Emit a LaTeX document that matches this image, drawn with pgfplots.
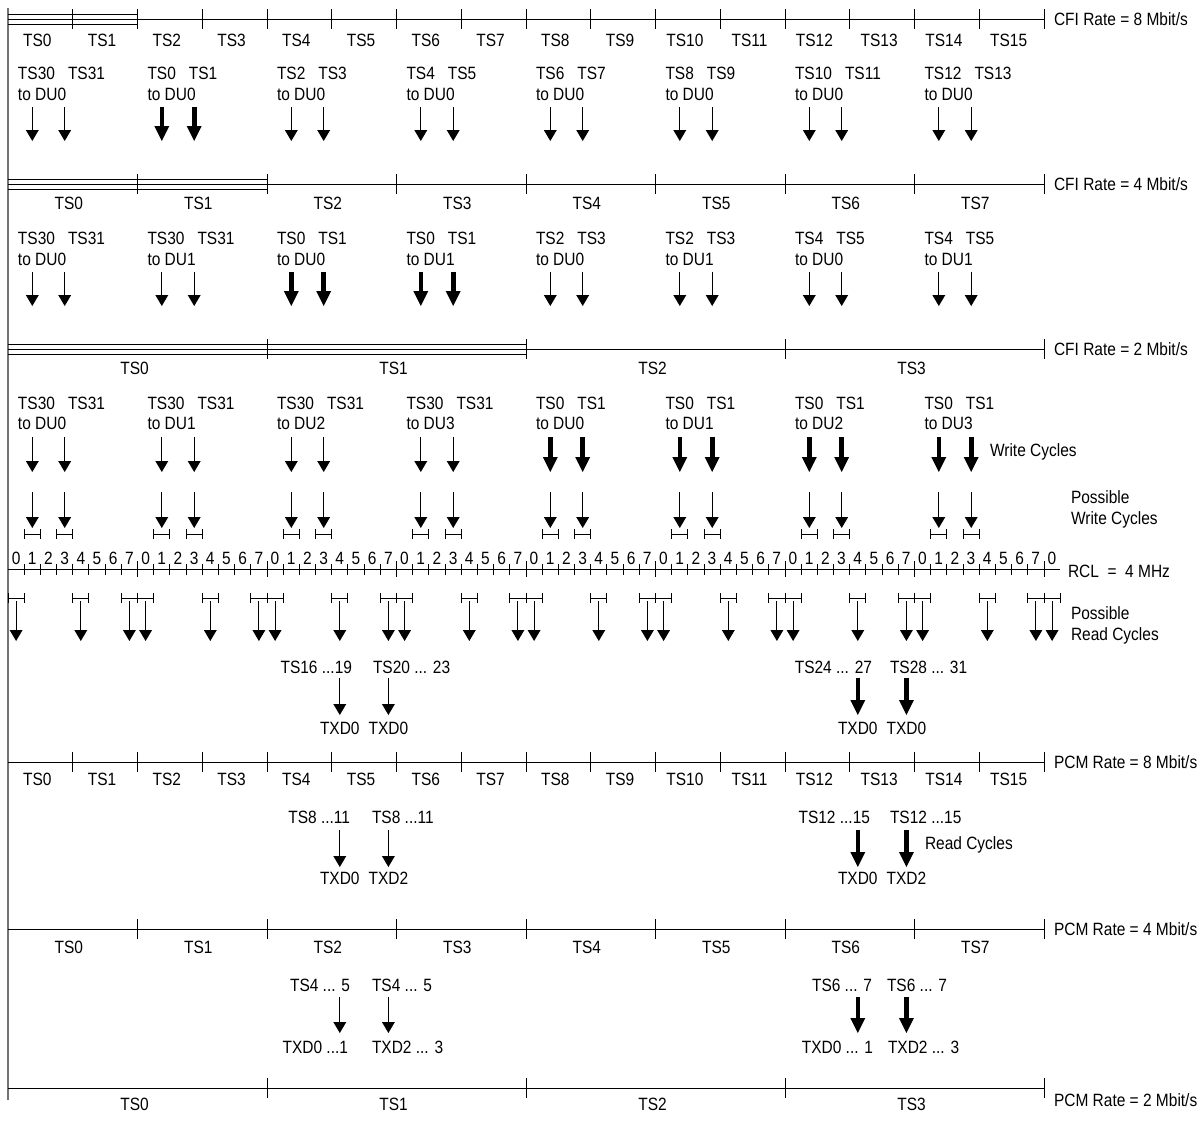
\documentclass[border=0pt]{standalone}
\usepackage{fontspec}
\setmainfont{Liberation Sans}[FakeStretch=0.87]
\usepackage{pgfplots}
\pgfplotsset{compat=1.18}
\usetikzlibrary{arrows.meta}
\newcommand\dg[1]{\makebox[8.09375pt]{#1}}
\newcommand\oct{\dg0\dg1\dg2\dg3\dg4\dg5\dg6\dg7}
\newcommand\slA[1]{\makebox[32.375pt]{#1}}
\newcommand\slB[1]{\makebox[64.75pt]{#1}}
\newcommand\slC[1]{\makebox[129.5pt]{#1}}
\pgfplotsset{
  thinarr/.style={black, line width=0.5pt, -{Triangle[length=5.5pt,width=6.5pt,line width=0pt]}},
  thickarr/.style={black, line width=2.3pt, -{Triangle[length=7.5pt,width=7.5pt,line width=0pt]}},
  hl/.style={black, line width=0.5pt},
  bt/.style={black, line width=0.5pt, only marks, mark=|, mark size=5pt},
  iv/.style={black, line width=0.5pt, mark=|, mark size=2.5pt, unbounded coords=jump},
}
\begin{document}
\begin{tikzpicture}[font=\fontsize{8.9pt}{10pt}\selectfont,
  every node/.style={inner sep=0pt, outer sep=0pt, text height=6.4pt, text depth=0pt}]
\begin{axis}[x=0.5pt, y=0.5pt, y dir=reverse, xmin=0, xmax=1204, ymin=0, ymax=1120,
  hide axis, clip=false]
\addplot[draw=none] coordinates {(0,0) (1204,1120)};
% left vertical line
\addplot[black!55, line width=1pt] coordinates {(8,8) (8,1100)};

% ---------------- CFI 8 Mbit/s
\addplot[hl] coordinates {(8,19) (1044,19)};
\addplot[hl] coordinates {(8,14) (137.5,14)};
\addplot[hl] coordinates {(8,24) (137.5,24)};
\addplot[bt] coordinates {(72.75,19) (137.5,19) (202.25,19) (267,19) (331.75,19) (396.5,19) (461.25,19) (526,19) (590.75,19) (655.5,19) (720.25,19) (785,19) (849.75,19) (914.5,19) (979.25,19) (1044,19)};
\node[anchor=west] at (5,40) {\slA{TS0}\slA{TS1}\slA{TS2}\slA{TS3}\slA{TS4}\slA{TS5}\slA{TS6}\slA{TS7}\slA{TS8}\slA{TS9}\slA{TS10}\slA{TS11}\slA{TS12}\slA{TS13}\slA{TS14}\slA{TS15}};
\node[anchor=west] at (1054,19) {CFI Rate = 8 Mbit/s};
\node[anchor=west] at (18,73) {TS30\hspace{6.5pt}TS31};   \node[anchor=west] at (18,94) {to DU0};
\node[anchor=west] at (147.5,73) {TS0\hspace{6.5pt}TS1};  \node[anchor=west] at (147.5,94) {to DU0};
\node[anchor=west] at (277,73) {TS2\hspace{6.5pt}TS3};    \node[anchor=west] at (277,94) {to DU0};
\node[anchor=west] at (406.5,73) {TS4\hspace{6.5pt}TS5};  \node[anchor=west] at (406.5,94) {to DU0};
\node[anchor=west] at (536,73) {TS6\hspace{6.5pt}TS7};    \node[anchor=west] at (536,94) {to DU0};
\node[anchor=west] at (665.5,73) {TS8\hspace{6.5pt}TS9};  \node[anchor=west] at (665.5,94) {to DU0};
\node[anchor=west] at (795,73) {TS10\hspace{6.5pt}TS11};  \node[anchor=west] at (795,94) {to DU0};
\node[anchor=west] at (924.5,73) {TS12\hspace{6.5pt}TS13};\node[anchor=west] at (924.5,94) {to DU0};
\addplot[thinarr, quiver={u=0,v=34}] coordinates {(32.3,107) (64.7,107) (291.3,107) (323.7,107) (420.8,107) (453.2,107) (550.3,107) (582.7,107) (679.8,107) (712.2,107) (809.3,107) (841.7,107) (938.8,107) (971.2,107)};
\addplot[thickarr, quiver={u=0,v=34}] coordinates {(161.8,107) (194.2,107)};

% ---------------- CFI 4 Mbit/s
\addplot[hl] coordinates {(8,184) (1044,184)};
\addplot[hl] coordinates {(8,179) (267,179)};
\addplot[hl] coordinates {(8,189) (267,189)};
\addplot[bt] coordinates {(137.5,184) (267,184) (396.5,184) (526,184) (655.5,184) (785,184) (914.5,184) (1044,184)};
\node[anchor=west] at (4,203) {\slB{TS0}\slB{TS1}\slB{TS2}\slB{TS3}\slB{TS4}\slB{TS5}\slB{TS6}\slB{TS7}};
\node[anchor=west] at (1054,184) {CFI Rate = 4 Mbit/s};
\node[anchor=west] at (18,238) {TS30\hspace{6.5pt}TS31};   \node[anchor=west] at (18,259) {to DU0};
\node[anchor=west] at (147.5,238) {TS30\hspace{6.5pt}TS31};\node[anchor=west] at (147.5,259) {to DU1};
\node[anchor=west] at (277,238) {TS0\hspace{6.5pt}TS1};    \node[anchor=west] at (277,259) {to DU0};
\node[anchor=west] at (406.5,238) {TS0\hspace{6.5pt}TS1};  \node[anchor=west] at (406.5,259) {to DU1};
\node[anchor=west] at (536,238) {TS2\hspace{6.5pt}TS3};    \node[anchor=west] at (536,259) {to DU0};
\node[anchor=west] at (665.5,238) {TS2\hspace{6.5pt}TS3};  \node[anchor=west] at (665.5,259) {to DU1};
\node[anchor=west] at (795,238) {TS4\hspace{6.5pt}TS5};    \node[anchor=west] at (795,259) {to DU0};
\node[anchor=west] at (924.5,238) {TS4\hspace{6.5pt}TS5};  \node[anchor=west] at (924.5,259) {to DU1};
\addplot[thinarr, quiver={u=0,v=34}] coordinates {(32.3,272) (64.7,272) (161.8,272) (194.2,272) (550.3,272) (582.7,272) (679.8,272) (712.2,272) (809.3,272) (841.7,272) (938.8,272) (971.2,272)};
\addplot[thickarr, quiver={u=0,v=34}] coordinates {(291.3,272) (323.7,272) (420.8,272) (453.2,272)};

% ---------------- CFI 2 Mbit/s
\addplot[hl] coordinates {(8,349) (1044,349)};
\addplot[hl] coordinates {(8,344) (526,344)};
\addplot[hl] coordinates {(8,354) (526,354)};
\addplot[bt] coordinates {(267,349) (526,349) (785,349) (1044,349)};
\node[anchor=west] at (5,368) {\slC{TS0}\slC{TS1}\slC{TS2}\slC{TS3}};
\node[anchor=west] at (1054,349) {CFI Rate = 2 Mbit/s};
\node[anchor=west] at (18,403) {TS30\hspace{6.5pt}TS31};   \node[anchor=west] at (18,423) {to DU0};
\node[anchor=west] at (147.5,403) {TS30\hspace{6.5pt}TS31};\node[anchor=west] at (147.5,423) {to DU1};
\node[anchor=west] at (277,403) {TS30\hspace{6.5pt}TS31};  \node[anchor=west] at (277,423) {to DU2};
\node[anchor=west] at (406.5,403) {TS30\hspace{6.5pt}TS31};\node[anchor=west] at (406.5,423) {to DU3};
\node[anchor=west] at (536,403) {TS0\hspace{6.5pt}TS1};    \node[anchor=west] at (536,423) {to DU0};
\node[anchor=west] at (665.5,403) {TS0\hspace{6.5pt}TS1};  \node[anchor=west] at (665.5,423) {to DU1};
\node[anchor=west] at (795,403) {TS0\hspace{6.5pt}TS1};    \node[anchor=west] at (795,423) {to DU2};
\node[anchor=west] at (924.5,403) {TS0\hspace{6.5pt}TS1};  \node[anchor=west] at (924.5,423) {to DU3};
\addplot[thinarr, quiver={u=0,v=35}] coordinates {(32.3,437) (64.7,437) (161.8,437) (194.2,437) (291.3,437) (323.7,437) (420.8,437) (453.2,437)};
\addplot[thickarr, quiver={u=0,v=35}] coordinates {(550.3,437) (582.7,437) (679.8,437) (712.2,437) (809.3,437) (841.7,437) (938.8,437) (971.2,437)};
\node[anchor=west] at (990,450) {Write Cycles};

% ---------------- Possible write cycles
\addplot[thinarr, quiver={u=0,v=36}] coordinates {(32.3,492) (64.7,492) (161.8,492) (194.2,492) (291.3,492) (323.7,492) (420.8,492) (453.2,492) (550.3,492) (582.7,492) (679.8,492) (712.2,492) (809.3,492) (841.7,492) (938.8,492) (971.2,492)};
\addplot[iv] coordinates {(24.2,534) (40.4,534) (0,nan) (56.6,534) (72.75,534) (0,nan)
 (153.7,534) (169.9,534) (0,nan) (186.1,534) (202.25,534) (0,nan)
 (283.2,534) (299.4,534) (0,nan) (315.6,534) (331.75,534) (0,nan)
 (412.7,534) (428.9,534) (0,nan) (445.1,534) (461.25,534) (0,nan)
 (542.2,534) (558.4,534) (0,nan) (574.6,534) (590.75,534) (0,nan)
 (671.7,534) (687.9,534) (0,nan) (704.1,534) (720.25,534) (0,nan)
 (801.2,534) (817.4,534) (0,nan) (833.6,534) (849.75,534) (0,nan)
 (930.7,534) (946.9,534) (0,nan) (963.1,534) (979.25,534)};
\node[anchor=west] at (1071,497) {Possible};
\node[anchor=west] at (1071,518) {Write Cycles};

% ---------------- RCL 4 MHz
\addplot[hl] coordinates {(8,569) (1060,569)};
\addplot[black, line width=0.5pt, only marks, mark=|, mark size=2.75pt] coordinates {
 (24.19,569.5) (40.38,569.5) (56.56,569.5) (72.75,569.5) (88.94,569.5) (105.13,569.5) (121.31,569.5)
 (153.69,569.5) (169.88,569.5) (186.06,569.5) (202.25,569.5) (218.44,569.5) (234.63,569.5) (250.81,569.5)
 (283.19,569.5) (299.38,569.5) (315.56,569.5) (331.75,569.5) (347.94,569.5) (364.13,569.5) (380.31,569.5)
 (412.69,569.5) (428.88,569.5) (445.06,569.5) (461.25,569.5) (477.44,569.5) (493.63,569.5) (509.81,569.5)
 (542.19,569.5) (558.38,569.5) (574.56,569.5) (590.75,569.5) (606.94,569.5) (623.13,569.5) (639.31,569.5)
 (671.69,569.5) (687.88,569.5) (704.06,569.5) (720.25,569.5) (736.44,569.5) (752.63,569.5) (768.81,569.5)
 (801.19,569.5) (817.38,569.5) (833.56,569.5) (849.75,569.5) (865.94,569.5) (882.13,569.5) (898.31,569.5)
 (930.69,569.5) (946.88,569.5) (963.06,569.5) (979.25,569.5) (995.44,569.5) (1011.63,569.5) (1027.81,569.5)};
\addplot[black, line width=0.5pt, only marks, mark=|, mark size=4pt] coordinates {
 (137.5,569) (267,569) (396.5,569) (526,569) (655.5,569) (785,569) (914.5,569) (1044,569)};
\node[anchor=west] at (8,558) {\oct\oct\oct\oct\oct\oct\oct\oct\dg0};
\node[anchor=west] at (1068,571) {RCL\ \ =\ \ 4 MHz};

% ---------------- Possible read cycles
\addplot[iv] coordinates {(8,598) (24.2,598) (0,nan) (72.75,598) (88.9,598) (0,nan) (121.3,598) (137.5,598) (153.7,598) (0,nan)
 (202.25,598) (218.4,598) (0,nan) (250.8,598) (267,598) (283.2,598) (0,nan)
 (331.75,598) (347.9,598) (0,nan) (380.3,598) (396.5,598) (412.7,598) (0,nan)
 (461.25,598) (477.4,598) (0,nan) (509.8,598) (526,598) (542.2,598) (0,nan)
 (590.75,598) (606.9,598) (0,nan) (639.3,598) (655.5,598) (671.7,598) (0,nan)
 (720.25,598) (736.4,598) (0,nan) (768.8,598) (785,598) (801.2,598) (0,nan)
 (849.75,598) (865.9,598) (0,nan) (898.3,598) (914.5,598) (930.7,598) (0,nan)
 (979.25,598) (995.4,598) (0,nan) (1027.8,598) (1044,598) (1060.2,598)};
\addplot[thinarr, quiver={u=0,v=40}] coordinates {(16.1,601) (80.8,601) (129.4,601) (145.6,601) (210.3,601) (258.9,601) (275.1,601) (339.8,601) (388.4,601) (404.6,601) (469.3,601) (517.9,601) (534.1,601) (598.8,601) (647.4,601) (663.6,601) (728.3,601) (776.9,601) (793.1,601) (857.8,601) (906.4,601) (922.6,601) (987.3,601) (1035.9,601) (1052.1,601)};
\node[anchor=west] at (1071,613) {Possible};
\node[anchor=west] at (1071,634) {Read Cycles};

% ---------------- TXD0 from 2 Mbit/s CFI
\node[anchor=east] at (352,667) {TS16 ...19};
\node[anchor=west] at (373,667) {TS20 ... 23};
\node[anchor=east] at (872,667) {TS24 ... 27};
\node[anchor=west] at (890,667) {TS28 ... 31};
\addplot[thinarr, quiver={u=0,v=37}] coordinates {(339.8,678) (388.4,678)};
\addplot[thickarr, quiver={u=0,v=37}] coordinates {(857.8,678) (906.4,678)};
\node at (339.8,728) {TXD0}; \node at (388.4,728) {TXD0};
\node at (857.8,728) {TXD0}; \node at (906.4,728) {TXD0};

% ---------------- PCM 8 Mbit/s
\addplot[hl] coordinates {(8,762) (1044,762)};
\addplot[bt] coordinates {(72.75,762) (137.5,762) (202.25,762) (267,762) (331.75,762) (396.5,762) (461.25,762) (526,762) (590.75,762) (655.5,762) (720.25,762) (785,762) (849.75,762) (914.5,762) (979.25,762) (1044,762)};
\node[anchor=west] at (5,779) {\slA{TS0}\slA{TS1}\slA{TS2}\slA{TS3}\slA{TS4}\slA{TS5}\slA{TS6}\slA{TS7}\slA{TS8}\slA{TS9}\slA{TS10}\slA{TS11}\slA{TS12}\slA{TS13}\slA{TS14}\slA{TS15}};
\node[anchor=west] at (1054,762) {PCM Rate = 8 Mbit/s};
\node[anchor=east] at (350,817) {TS8 ...11};
\node[anchor=west] at (372,817) {TS8 ...11};
\node[anchor=east] at (870,817) {TS12 ...15};
\node[anchor=west] at (890,817) {TS12 ...15};
\addplot[thinarr, quiver={u=0,v=37}] coordinates {(339.8,830) (388.4,830)};
\addplot[thickarr, quiver={u=0,v=37}] coordinates {(857.8,830) (906.4,830)};
\node at (339.8,878) {TXD0}; \node at (388.4,878) {TXD2};
\node at (857.8,878) {TXD0}; \node at (906.4,878) {TXD2};
\node[anchor=west] at (925,843) {Read Cycles};

% ---------------- PCM 4 Mbit/s
\addplot[hl] coordinates {(8,929) (1044,929)};
\addplot[bt] coordinates {(137.5,929) (267,929) (396.5,929) (526,929) (655.5,929) (785,929) (914.5,929) (1044,929)};
\node[anchor=west] at (4,947) {\slB{TS0}\slB{TS1}\slB{TS2}\slB{TS3}\slB{TS4}\slB{TS5}\slB{TS6}\slB{TS7}};
\node[anchor=west] at (1054,929) {PCM Rate = 4 Mbit/s};
\node[anchor=east] at (350,985) {TS4 ... 5};
\node[anchor=west] at (372,985) {TS4 ... 5};
\node[anchor=east] at (872,985) {TS6 ... 7};
\node[anchor=west] at (887,985) {TS6 ... 7};
\addplot[thinarr, quiver={u=0,v=36}] coordinates {(339.8,997) (388.4,997)};
\addplot[thickarr, quiver={u=0,v=36}] coordinates {(857.8,997) (906.4,997)};
\node[anchor=east] at (348,1047) {TXD0 ...1};
\node[anchor=west] at (372,1047) {TXD2 ... 3};
\node[anchor=east] at (873,1047) {TXD0 ... 1};
\node[anchor=west] at (888,1047) {TXD2 ... 3};

% ---------------- PCM 2 Mbit/s
\addplot[hl] coordinates {(8,1088) (1044,1088)};
\addplot[bt] coordinates {(267,1088) (526,1088) (785,1088) (1044,1088)};
\node[anchor=west] at (5,1104) {\slC{TS0}\slC{TS1}\slC{TS2}\slC{TS3}};
\node[anchor=west] at (1054,1100) {PCM Rate = 2 Mbit/s};
\end{axis}
\end{tikzpicture}
\end{document}
